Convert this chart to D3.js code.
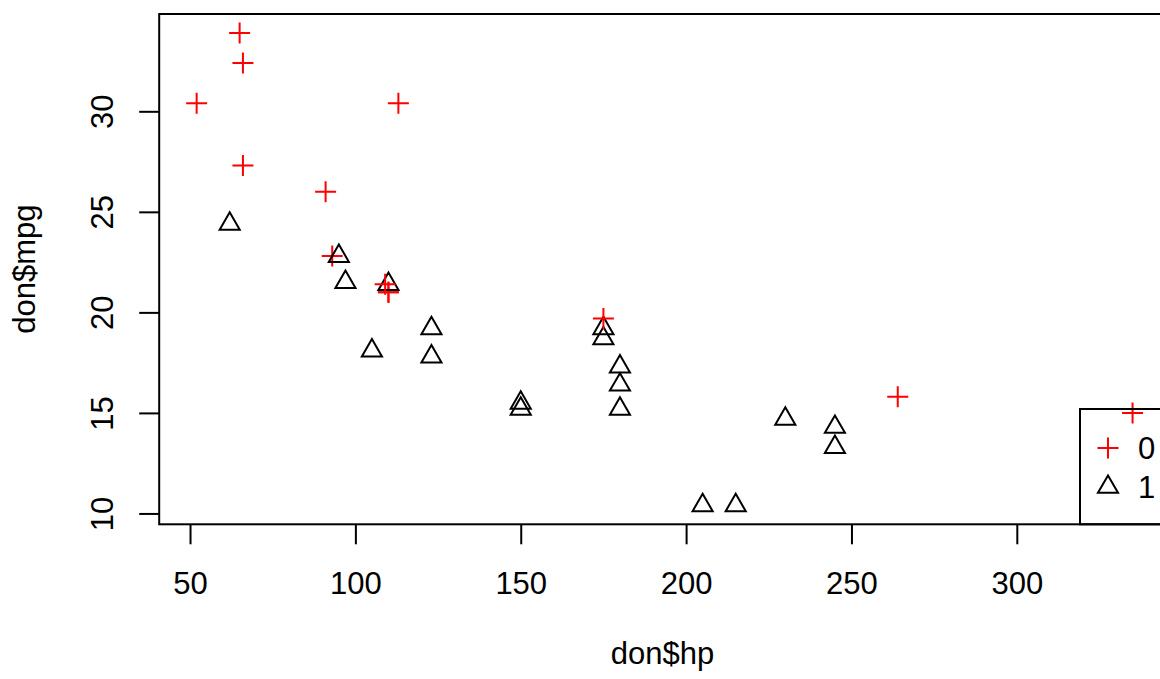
<!DOCTYPE html>
<html>
<head>
<meta charset="utf-8">
<script src="https://cdn.jsdelivr.net/npm/d3@7"></script>
<style>
  body { margin: 0; background: #fff; }
  text { font-family: "Liberation Sans", Arial, sans-serif; }
</style>
</head>
<body>
<div id="grafico"></div>
<script>
// mtcars: hp, mpg e o grupo mostrado na legenda
const hp  = [110, 110, 93, 110, 175, 105, 245, 62, 95, 123, 123, 180, 180, 180, 205, 215, 230,
             66, 52, 65, 97, 150, 150, 245, 175, 66, 91, 113, 264, 175, 335, 109];
const mpg = [21.0, 21.0, 22.8, 21.4, 18.7, 18.1, 14.3, 24.4, 22.8, 19.2, 17.8, 16.4, 17.3, 15.2, 10.4, 10.4, 14.7,
             32.4, 30.4, 33.9, 21.5, 15.5, 15.2, 13.3, 19.2, 27.3, 26.0, 30.4, 15.8, 19.7, 15.0, 21.4];
const grupo = ["0", "0", "0", "1", "1", "1", "1", "1", "1", "1", "1", "1", "1", "1", "1", "1", "1",
               "0", "0", "0", "1", "1", "1", "1", "1", "0", "0", "0", "0", "0", "0", "0"];

const grupos = ["0", "1"];
const cores = ["#ff0000", "#000000"];
const xTicks = [50, 100, 150, 200, 250, 300];
const yTicks = [10, 15, 20, 25, 30];

const width = 1160;
const height = 679;
const fonte = 31;

const svg = d3.select("#grafico")
    .append("svg")
    .attr("width", width)
    .attr("height", height);

// domínio com a expansão de 4% como no R
function expande(valores) {
    const [a, b] = d3.extent(valores);
    const d = (b - a) * 0.04;
    return [a - d, b + d];
}

const x = d3.scaleLinear().domain(expande(hp)).range([159.2, 1170]);
const y = d3.scaleLinear().domain(expande(mpg)).range([524.3, 14]);

// eixo x
const eixoX = svg.append("g")
    .attr("transform", `translate(0,${y.range()[0]})`)
    .call(d3.axisBottom(x).tickValues(xTicks).tickSize(20).tickFormat(d3.format("d")));
eixoX.select(".domain").remove();
eixoX.selectAll("line").attr("stroke", "#000").attr("stroke-width", 2);
eixoX.selectAll("text")
    .attr("y", 70).attr("dy", 0)
    .attr("fill", "#000")
    .style("font-size", fonte + "px");

// eixo y (rótulos girados)
const eixoY = svg.append("g")
    .attr("transform", `translate(${x.range()[0]},0)`)
    .call(d3.axisLeft(y).tickValues(yTicks).tickSize(20).tickFormat(d3.format("d")));
eixoY.select(".domain").remove();
eixoY.selectAll("line").attr("stroke", "#000").attr("stroke-width", 2);
eixoY.selectAll("text")
    .attr("x", null).attr("dy", 0)
    .attr("transform", "translate(-46,0) rotate(-90)")
    .attr("text-anchor", "middle")
    .attr("fill", "#000")
    .style("font-size", fonte + "px");

// caixa do gráfico
svg.append("rect")
    .attr("x", x.range()[0])
    .attr("y", y.range()[1])
    .attr("width", x.range()[1] - x.range()[0])
    .attr("height", y.range()[0] - y.range()[1])
    .attr("fill", "none")
    .attr("stroke", "#000")
    .attr("stroke-width", 2);

// títulos dos eixos
svg.append("text")
    .attr("x", (x.range()[0] + x.range()[1]) / 2 - 2)
    .attr("y", 664)
    .attr("text-anchor", "middle")
    .style("font-size", fonte + "px")
    .text("don$hp");

svg.append("text")
    .attr("transform", `translate(35,${(y.range()[0] + y.range()[1]) / 2}) rotate(-90)`)
    .attr("text-anchor", "middle")
    .style("font-size", fonte + "px")
    .text("don$mpg");

// símbolos: + (pch 3) e triângulo (pch 2)
const cruz = "M-10.5,0H10.5M0,-10.5V10.5";
const triangulo = d3.symbol().type(d3.symbolTriangle).size(175)();
const simbolo = g => g === "0" ? cruz : triangulo;
const cor = g => cores[grupos.indexOf(g)];

svg.append("g")
    .selectAll("path")
    .data(hp.map((h, i) => ({ hp: h, mpg: mpg[i], grupo: grupo[i] })))
    .enter()
    .append("path")
    .attr("transform", d => `translate(${x(d.hp)},${y(d.mpg)})`)
    .attr("d", d => simbolo(d.grupo))
    .attr("fill", "none")
    .attr("stroke", d => cor(d.grupo))
    .attr("stroke-width", 2);

// legenda (fundo transparente, como no R)
const legenda = svg.append("g");
legenda.append("rect")
    .attr("x", 1080)
    .attr("y", 409)
    .attr("width", x.range()[1] - 1080)
    .attr("height", y.range()[0] - 409)
    .attr("fill", "none")
    .attr("stroke", "#000")
    .attr("stroke-width", 2);

const itens = legenda.selectAll(".item")
    .data(grupos)
    .enter()
    .append("g")
    .attr("class", "item")
    .attr("transform", (d, i) => `translate(1108,${448 + i * 39})`);

itens.append("path")
    .attr("d", d => simbolo(d))
    .attr("fill", "none")
    .attr("stroke", d => cor(d))
    .attr("stroke-width", 2);

itens.append("text")
    .attr("x", 30)
    .attr("y", 11)
    .style("font-size", fonte + "px")
    .text(d => d);
</script>
</body>
</html>
